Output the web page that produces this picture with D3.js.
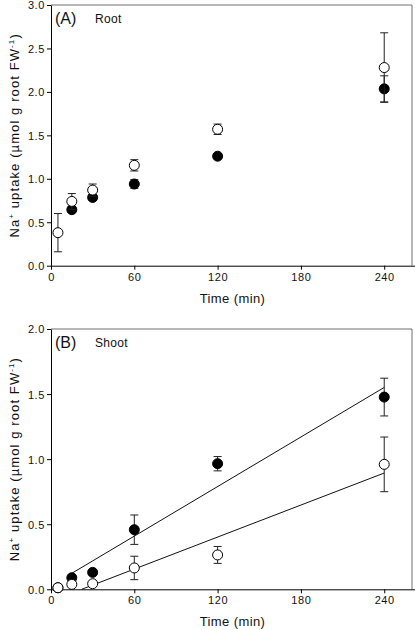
<!DOCTYPE html>
<html><head><meta charset="utf-8">
<script src="https://cdn.jsdelivr.net/npm/d3@7"></script>
<style>
html,body{margin:0;padding:0;background:#fff;}
svg{display:block;font-family:"Liberation Sans",Arial,sans-serif;}
</style></head>
<body>
<svg id="chart" width="415" height="630"></svg>
<script>
// ---- data ----
const timeTicks = [0, 60, 120, 180, 240];
const rootYTicks = [0, 0.5, 1.0, 1.5, 2.0, 2.5, 3.0];
const shootYTicks = [0, 0.5, 1.0, 1.5, 2.0];

// Panel A (Root)
const rootFilledTime = [15, 30, 60, 120, 240];
const rootFilledMean = [0.645, 0.785, 0.94, 1.26, 2.035];
const rootFilledErr  = [0.03, 0.03, 0.05, 0.03, 0.15];
const rootOpenTime = [5, 15, 30, 60, 120, 240];
const rootOpenMean = [0.38, 0.74, 0.87, 1.155, 1.57, 2.28];
const rootOpenErr  = [0.22, 0.09, 0.07, 0.065, 0.06, 0.40];

// Panel B (Shoot)
const shootFilledTime = [5, 15, 30, 60, 120, 240];
const shootFilledMean = [0.012, 0.089, 0.13, 0.458, 0.965, 1.477];
const shootFilledErr  = [0.005, 0.01, 0.01, 0.113, 0.055, 0.145];
const shootOpenTime = [5, 15, 30, 60, 120, 240];
const shootOpenMean = [0.012, 0.038, 0.043, 0.164, 0.264, 0.96];
const shootOpenErr  = [0.005, 0.005, 0.005, 0.09, 0.065, 0.21];

// Linear fits in panel B: [slope, intercept, xStart, xEnd]
const shootFilledFit = [0.006347, 0.0278, 15, 240];
const shootOpenFit   = [0.0041, -0.0906, 22.1, 240];

// ---- drawing ----
const svg = d3.select("#chart");
const left = 51, right = 412;

function panel(cfg) {
  const x = d3.scaleLinear().domain([0, 260]).range([left, right]);
  const y = d3.scaleLinear().domain([0, cfg.yMax]).range([cfg.bottom, cfg.top]);
  const g = svg.append("g");

  // frame top/right
  g.append("path")
    .attr("d", `M${left},${cfg.top}H${right}V${cfg.bottom}`)
    .attr("fill", "none").attr("stroke", "#6e6e6e").attr("stroke-width", 1);

  const xAxis = g.append("g").attr("transform", `translate(0,${cfg.bottom})`)
    .call(d3.axisBottom(x).tickValues(timeTicks).tickSize(4).tickSizeOuter(0).tickFormat(d3.format("d")));
  xAxis.select(".domain").attr("d", `M${left},0.5H${right + 4}`);
  const yAxis = g.append("g").attr("transform", `translate(${left},0)`)
    .call(d3.axisLeft(y).tickValues(cfg.yTicks).tickSize(4).tickSizeOuter(0).tickFormat(d3.format(".1f")));
  [xAxis, yAxis].forEach(a => {
    a.selectAll("text").attr("font-size", 11).attr("letter-spacing", 0.6).attr("fill", "#111")
      .attr("font-family", "Liberation Sans, Arial, sans-serif");
    a.selectAll("line,path").attr("stroke", "#000");
  });
  xAxis.selectAll("text").attr("dy", "0.9em").attr("y", 5);
  yAxis.selectAll("text").attr("x", -6).attr("dy", "0.36em");

  // axis titles
  g.append("text").attr("x", (left + right) / 2 + 1).attr("y", cfg.bottom + 37)
    .attr("text-anchor", "middle").attr("font-size", 13).attr("letter-spacing", 0.4)
    .attr("fill", "#111").text("Time (min)");
  const yt = g.append("text")
    .attr("transform", `translate(19,${(cfg.top + cfg.bottom) / 2}) rotate(-90)`)
    .attr("text-anchor", "middle").attr("font-size", 13).attr("letter-spacing", 1.1)
    .attr("fill", "#111");
  yt.append("tspan").text("Na");
  yt.append("tspan").attr("dy", -5).attr("font-size", 8).text("+");
  yt.append("tspan").attr("dy", 5).text(" uptake (\u00b5mol g root FW");
  yt.append("tspan").attr("dy", -5).attr("font-size", 8).text("-1");
  yt.append("tspan").attr("dy", 5).text(")");

  // panel labels
  g.append("text").attr("x", 55).attr("y", cfg.top + 19).attr("font-size", 16).attr("fill", "#111").text(cfg.letter);
  g.append("text").attr("x", 95).attr("y", cfg.top + 18).attr("font-size", 12).attr("letter-spacing", 0.3)
    .attr("fill", "#111").text(cfg.name);

  // fits
  (cfg.fits || []).forEach(f => {
    g.append("line")
      .attr("x1", x(f[2])).attr("y1", y(f[0] * f[2] + f[1]))
      .attr("x2", x(f[3])).attr("y2", y(f[0] * f[3] + f[1]))
      .attr("stroke", "#111").attr("stroke-width", 1);
  });

  // series
  cfg.series.forEach(s => {
    const data = s.t.map((t, i) => ({t, m: s.m[i], e: s.e[i]}));
    const eb = g.append("g");
    data.forEach(d => {
      const x0 = x(d.t), y1 = y(d.m + d.e), y2 = y(d.m - d.e);
      eb.append("line").attr("x1", x0).attr("x2", x0).attr("y1", y1).attr("y2", y2)
        .attr("stroke", "#222").attr("stroke-width", 1);
      [y1, y2].forEach(yy => eb.append("line").attr("x1", x0 - 4).attr("x2", x0 + 4)
        .attr("y1", yy).attr("y2", yy).attr("stroke", "#222").attr("stroke-width", 1));
    });
    g.append("g").selectAll("circle").data(data).join("circle")
      .attr("cx", d => x(d.t)).attr("cy", d => y(d.m)).attr("r", 5)
      .attr("fill", s.fill).attr("stroke", "#000").attr("stroke-width", 1);
  });
}

panel({
  top: 5, bottom: 265.7, yMax: 3.0, yTicks: rootYTicks, letter: "(A)", name: "Root",
  series: [
    {t: rootFilledTime, m: rootFilledMean, e: rootFilledErr, fill: "#000"},
    {t: rootOpenTime, m: rootOpenMean, e: rootOpenErr, fill: "#fff"}
  ]
});
panel({
  top: 329, bottom: 589.3, yMax: 2.0, yTicks: shootYTicks, letter: "(B)", name: "Shoot",
  fits: [shootFilledFit, shootOpenFit],
  series: [
    {t: shootFilledTime, m: shootFilledMean, e: shootFilledErr, fill: "#000"},
    {t: shootOpenTime, m: shootOpenMean, e: shootOpenErr, fill: "#fff"}
  ]
});
</script>
</body></html>
